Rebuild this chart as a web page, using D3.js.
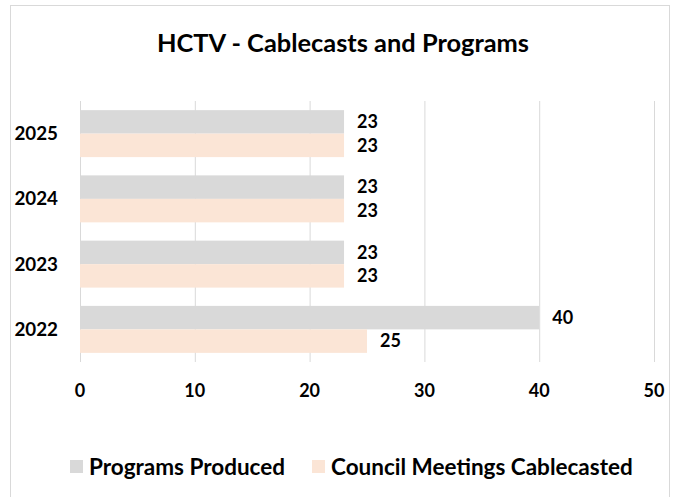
<!DOCTYPE html>
<html>
<head>
<meta charset="utf-8">
<script src="https://cdn.jsdelivr.net/npm/d3@7.9.0/dist/d3.min.js"></script>
<style>
  html, body { margin: 0; padding: 0; background: #fff; }
</style>
</head>
<body>
<div id="chart"></div>
<script>
// Chart data
const years = ['2025', '2024', '2023', '2022'];
const programsProduced = [23, 23, 23, 40];
const councilMeetings = [23, 23, 23, 25];
const xTicks = [0, 10, 20, 30, 40, 50];
const seriesNames = ['Programs Produced', 'Council Meetings Cablecasted'];

const FONT = "Lato, 'Open Sans', sans-serif";
const COLORS = ['#d9d9d9', '#fbe5d6'];
const GRID = '#d9d9d9';

const width = 680, height = 497;
const margin = { top: 101, right: 26, bottom: 135, left: 80 };

const svg = d3.select('#chart')
    .append('svg')
    .attr('width', width)
    .attr('height', height);

// chart frame
svg.append('rect')
    .attr('x', 10.5).attr('y', 5.5)
    .attr('width', 659).attr('height', 500)
    .attr('fill', '#fff')
    .attr('stroke', '#d9d9d9');

svg.append('text')
    .attr('x', 343).attr('y', 43)
    .attr('dy', '0.35em')
    .attr('text-anchor', 'middle')
    .attr('font-family', FONT)
    .attr('font-weight', 'bold')
    .attr('font-size', '25.4px')
    .attr('fill', '#000')
    .text('HCTV - Cablecasts and Programs');

const x = d3.scaleLinear()
    .domain([0, 50])
    .range([margin.left, width - margin.right]);

const y = d3.scaleBand()
    .domain(years)
    .range([margin.top, height - margin.bottom])
    .paddingInner(0.28)
    .paddingOuter(0.14);

const sub = d3.scaleBand()
    .domain([0, 1])
    .range([0, y.bandwidth()]);

// gridlines
svg.append('g')
    .selectAll('line')
    .data(xTicks)
    .join('line')
    .attr('x1', d => x(d) + 0.5).attr('x2', d => x(d) + 0.5)
    .attr('y1', margin.top).attr('y2', height - margin.bottom)
    .attr('stroke', GRID)
    .attr('stroke-width', 1);

// x tick labels
svg.append('g')
    .selectAll('text')
    .data(xTicks)
    .join('text')
    .attr('x', d => x(d))
    .attr('y', 391)
    .attr('dy', '0.35em')
    .attr('text-anchor', 'middle')
    .attr('font-family', FONT)
    .attr('font-weight', 'bold')
    .attr('font-size', '18px')
    .text(d => d);

// year labels
svg.append('g')
    .selectAll('text')
    .data(years)
    .join('text')
    .attr('x', 58)
    .attr('y', d => y(d) + y.bandwidth() / 2)
    .attr('dy', '0.35em')
    .attr('text-anchor', 'end')
    .attr('font-family', FONT)
    .attr('font-weight', 'bold')
    .attr('font-size', '18.8px')
    .text(d => d);

const series = [programsProduced, councilMeetings];

series.forEach((vals, si) => {
    const g = svg.append('g');
    g.selectAll('rect')
        .data(vals)
        .join('rect')
        .attr('x', x(0))
        .attr('y', (d, i) => y(years[i]) + sub(si))
        .attr('width', d => x(d) - x(0))
        .attr('height', sub.bandwidth())
        .attr('fill', COLORS[si]);

    g.selectAll('text')
        .data(vals)
        .join('text')
        .attr('x', d => x(d) + 13)
        .attr('y', (d, i) => y(years[i]) + sub(si) + sub.bandwidth() / 2)
        .attr('dy', '0.35em')
        .attr('font-family', FONT)
        .attr('font-weight', 'bold')
        .attr('font-size', '18px')
        .text(d => d);
});

// legend
const legendX = [70, 312];
const legend = svg.append('g');
seriesNames.forEach((name, i) => {
    legend.append('rect')
        .attr('x', legendX[i]).attr('y', 460)
        .attr('width', 13).attr('height', 13)
        .attr('fill', COLORS[i]);
    legend.append('text')
        .attr('x', legendX[i] + 19).attr('y', 467)
        .attr('dy', '0.35em')
        .attr('font-family', FONT)
        .attr('font-weight', 'bold')
        .attr('font-size', '22.5px')
        .text(name);
});
</script>
</body>
</html>
